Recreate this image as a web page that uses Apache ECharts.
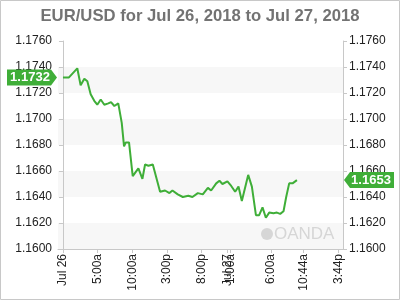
<!DOCTYPE html>
<html>
<head>
<meta charset="utf-8">
<style>
html,body{margin:0;padding:0;background:#fff;}
#chart{width:400px;height:300px;}
</style>
<script src="https://cdn.jsdelivr.net/npm/echarts@6/dist/echarts.min.js"></script>
</head>
<body>
<div id="chart"></div>
<script>
// time in minutes from Jul 26 00:00
var times = [0,52,124,153,185,211,240,271,297,327,358,393,416,445,479,509,529,544,572,604,653,688,711,740,778,841,884,922,948,994,1038,1086,1121,1168,1211,1255,1283,1327,1355,1381,1424,1457,1491,1520,1549,1604,1636,1671,1699,1728,1757,1786,1823,1853,1881,1910,1933,1959,1988,2026];
var prices = [1.1732,1.1732,1.1739,1.1726,1.1731,1.1729,1.1719,1.1714,1.1711,1.1715,1.1711,1.1712,1.1713,1.1710,1.1712,1.1697,1.1679,1.1682,1.1682,1.1656,1.1662,1.1654,1.1665,1.1664,1.1665,1.1644,1.1645,1.1643,1.1645,1.1642,1.1640,1.1641,1.1640,1.1643,1.1642,1.1647,1.1645,1.16505,1.16525,1.1650,1.1652,1.16485,1.1644,1.1648,1.1637,1.1657,1.1648,1.1626,1.1626,1.1632,1.1624,1.1628,1.16275,1.1628,1.1627,1.1629,1.1640,1.16505,1.16505,1.1653];
var tickValues = [0,300,600,900,1200,1425,1450,1800,2084,2384];
var tickLabels = ['Jul 26','5:00a','10:00a','3:00p','8:00p','Jul 27','1:00a','6:00a','10:44a','3:44p'];
var xMin = -43, xMax = 2425;
var yMin = 1.16, yMax = 1.176, yStep = 0.002;

var green = '#3fae38';
var font = 'Liberation Sans, Arial, sans-serif';
var data = times.map(function(t,i){return [t, prices[i]];});
var first = prices[0], last = prices[prices.length-1];

var chart = echarts.init(document.getElementById('chart'));
var yAxisBase = function(pos){
  return {
    type:'value', position:pos, min:yMin, max:yMax, interval:yStep,
    axisLine:{show:true, lineStyle:{color:'#c8c8c8'}},
    axisTick:{show:true, length:4, lineStyle:{color:'#c8c8c8'}},
    axisLabel:{color:'#222', fontSize:12, fontFamily:font, margin:6,
      formatter:function(v){return v.toFixed(4);}},
    splitLine:{show:false}
  };
};
var yl = yAxisBase('left');
yl.splitArea = {show:true, areaStyle:{color:['#f7f7f7','#ffffff']}};
var yr = yAxisBase('right');
yr.splitArea = {show:false};

chart.setOption({
  animation:false,
  title:{text:'EUR/USD for Jul 26, 2018 to Jul 27, 2018', left:'center', top:3,
    textStyle:{color:'#737373', fontSize:16.7, fontWeight:'bold', fontFamily:font}},
  grid:{left:58, right:57, top:41, bottom:51, containLabel:false},
  xAxis:{type:'value', min:xMin, max:xMax,
    axisLine:{show:true, lineStyle:{color:'#c8c8c8'}},
    axisTick:{show:true, length:4, customValues:tickValues, lineStyle:{color:'#c8c8c8'}},
    axisLabel:{rotate:90, color:'#222', fontSize:12, fontFamily:font, margin:5,
      customValues:tickValues,
      formatter:function(v){var i=tickValues.indexOf(v);return i>=0?tickLabels[i]:'';}},
    splitLine:{show:false}
  },
  yAxis:[yl, yr],
  graphic:[
    {type:'rect', shape:{x:0.5,y:0.5,width:399,height:299}, style:{fill:'none', stroke:'#c8c8c8', lineWidth:1}, z:100},
    {type:'circle', shape:{cx:267, cy:234, r:6}, style:{fill:'#d6d6d6'}, z:1},
    {type:'text', left:274, top:226, style:{text:'OANDA', fill:'#d6d6d6', fontSize:17, fontFamily:font}, z:1}
  ],
  series:[{
    type:'line', data:data, showSymbol:false, symbol:'none',
    lineStyle:{color:green, width:2}, itemStyle:{color:green},
    markPoint:{
      symbolKeepAspect:false,
      label:{show:true, color:'#fff', fontWeight:'bold', fontSize:13, fontFamily:font},
      data:[
        {coord:[xMin, first], value:first.toFixed(4),
         symbol:'path://M0,0 L44,0 L50,8 L44,16 L0,16 Z', symbolSize:[50,16], symbolOffset:[-26,0],
         itemStyle:{color:green}, label:{offset:[-2,0]}},
        {coord:[xMax, last], value:last.toFixed(4),
         symbol:'path://M6,0 L50,0 L50,16 L6,16 L0,8 Z', symbolSize:[50,16], symbolOffset:[26,0],
         itemStyle:{color:green}, label:{offset:[2,0]}}
      ]
    }
  }]
});
</script>
</body>
</html>
